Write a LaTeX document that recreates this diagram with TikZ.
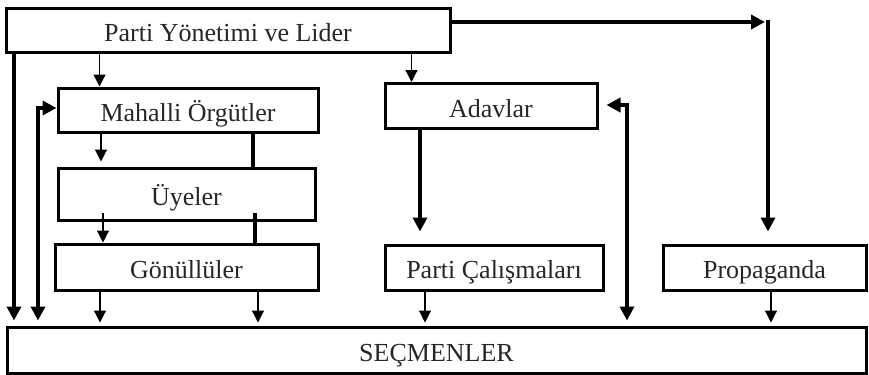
\documentclass[tikz,border=0pt]{standalone}
\usepackage{fontspec}
\setmainfont{Liberation Serif}
\usetikzlibrary{arrows.meta}
\tikzset{
  box/.style={draw, line width=1.5pt, rectangle, inner sep=0pt, font=\fontsize{13}{15}\selectfont, text=black!85, text height=11pt, text depth=0pt},
  thinarrow/.style={line width=0.6pt, -{Triangle[length=6pt,width=6pt]}},
  thickarrow/.style={line width=2.4pt, -{Triangle[length=7pt,width=7pt]}},
  thickboth/.style={line width=2.4pt, {Triangle[length=7pt,width=7pt]}-{Triangle[length=7pt,width=7pt]}},
  thickline/.style={line width=2.4pt}
}
\begin{document}
\begin{tikzpicture}[x=0.5pt,y=-0.5pt]
\useasboundingbox (0,0) rectangle (869,375);
% boxes
\node[box, minimum width=222pt, minimum height=22pt] (top) at (228,30) {Parti Yönetimi ve Lider};
\node[box, minimum width=130pt, minimum height=22pt] (mah) at (188,110) {Mahalli Örgütler};
\node[box, minimum width=106pt, minimum height=22.5pt] (ada) at (491,106) {Adavlar};
\node[box, minimum width=128.5pt, minimum height=26pt] (uye) at (186.5,194) {Üyeler};
\node[box, minimum width=131.5pt, minimum height=23pt] (gon) at (186.5,267) {Gönüllüler};
\node[box, minimum width=109pt, minimum height=22.5pt] (pc) at (494,267.5) {Parti Çalışmaları};
\node[box, minimum width=101.5pt, minimum height=22.5pt] (prop) at (764.5,267.5) {Propaganda};
\node[box, minimum width=429.5pt, minimum height=23pt] (sec) at (436.5,350) {SEÇMENLER};
% coordinates
\coordinate (corner) at (768,22);
\coordinate (lelbow) at (38,108);
\coordinate (relbow) at (627,105);
% thin arrows
\draw[thinarrow] (top.south -| mah.north west) ++(43,0) coordinate (a1) -- (a1 |- mah.north);
\draw[thinarrow] (top.south -| ada.north west) ++(28,0) coordinate (a2) -- (a2 |- ada.north);
\draw[thinarrow] (mah.south -| 101,0) coordinate (a3) -- ++(0,28);
\draw[thinarrow] (103,213) coordinate (a4) -- (a4 |- gon.north);
\draw[thinarrow] (gon.south -| 100,0) coordinate (a5) -- ([yshift=1.5pt]a5 |- sec.north);
\draw[thinarrow] (gon.south -| 258,0) coordinate (a6) -- ([yshift=1.5pt]a6 |- sec.north);
\draw[thinarrow] (pc.south -| 425,0) coordinate (a7) -- ([yshift=1.5pt]a7 |- sec.north);
\draw[thinarrow] (prop.south -| 771,0) coordinate (a8) -- ([yshift=1.5pt]a8 |- sec.north);
% thick connectors
\draw[thickline] (mah.south -| 253,0) -- (uye.north -| 253,0);
\draw[thickline] (255,213) -- (gon.north -| 255,0);
\draw[thickarrow] (top.east |- corner) -- ([xshift=-1.5pt]corner);
\draw[thickarrow] ([yshift=1pt]corner) -- ([yshift=6pt]corner |- prop.north);
\draw[thickarrow] (ada.south -| 420,0) coordinate (a9) -- ([yshift=6pt]a9 |- pc.north);
\draw[thickarrow] (top.south -| 14,0) coordinate (a10) -- ([yshift=2.5pt]a10 |- sec.north);
\draw[thickboth] ([yshift=2.5pt]lelbow |- sec.north) -- (lelbow) -- (lelbow -| mah.west);
\draw[thickboth] ([yshift=2.5pt]relbow |- sec.north) -- (relbow) -- ([xshift=4pt]relbow -| ada.east);
\end{tikzpicture}
\end{document}
